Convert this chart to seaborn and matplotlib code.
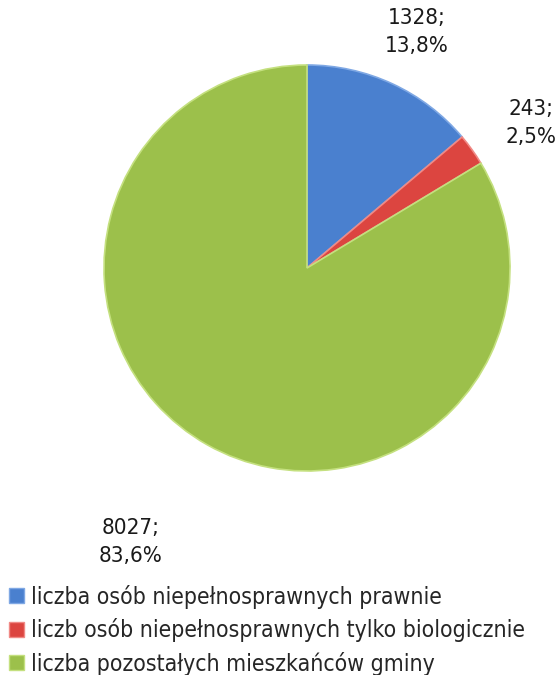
import matplotlib
matplotlib.use('Agg')
import matplotlib.pyplot as plt
import seaborn as sns
from matplotlib.patches import Patch

sns.set_theme(style='white')
plt.rcParams['font.family'] = ['DejaVu Sans', 'Noto Sans']
plt.rcParams['font.stretch'] = 'condensed'

# dane z wykresu
kategorie = ['liczba osób niepełnosprawnych prawnie',
             'liczb osób niepełnosprawnych tylko biologicznie',
             'liczba pozostałych mieszkańców gminy']
wartosci = [1328, 243, 8027]
procenty = ['13,8%', '2,5%', '83,6%']
kolory = ['#4a80cf', '#dc4540', '#9cc04b']
krawedzie = ['#7fa8e4', '#f08a86', '#c4e07f']

fig = plt.figure(figsize=(5.58, 6.75), dpi=100)
ax = fig.add_axes([104/558, (675-268-203)/675, 406/558, 406/675])

wedges, _ = ax.pie(wartosci, colors=kolory, startangle=90, counterclock=False,
                   radius=1, wedgeprops=dict(linewidth=1.2))
for w, e in zip(wedges, krawedzie):
    w.set_edgecolor(e)
ax.set_xlim(-1, 1)
ax.set_ylim(-1, 1)
ax.set_aspect('equal')
ax.axis('off')

# pozycje etykiet
poz = [(0.54, 1.165), (1.105, 0.715), (-0.87, -1.35)]
for (x, y), v, p in zip(poz, wartosci, procenty):
    ax.text(x, y, f'{v};\n{p}', ha='center', va='center', fontsize=16,
            color='#1a1a1a', linespacing=1.5, clip_on=False)

uchwyty = [Patch(facecolor=c, edgecolor=e) for c, e in zip(kolory, krawedzie)]
fig.legend(uchwyty, kategorie, loc='lower left', bbox_to_anchor=(-0.012, -0.025),
           frameon=False, fontsize=16.5, handlelength=0.65, handleheight=0.65,
           handletextpad=0.3, labelspacing=0.42, borderaxespad=0.3)

fig.savefig('out.png', dpi=100)
